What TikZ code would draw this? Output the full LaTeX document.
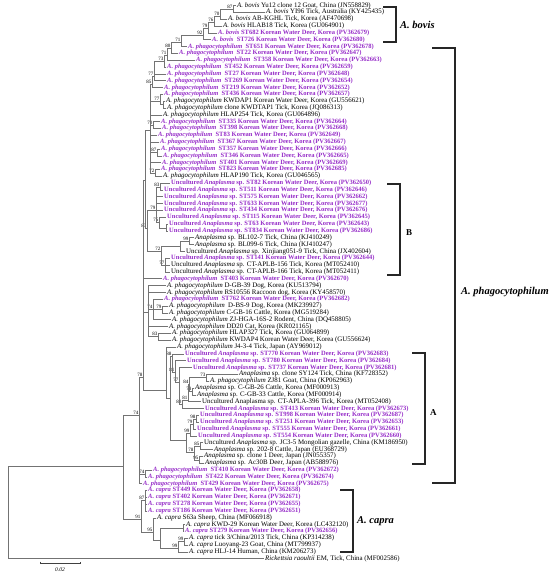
\documentclass[tikz,border=0pt]{standalone}
\usepackage{fontspec}
\setmainfont{Liberation Serif}
\usepackage{tikz}
\usetikzlibrary{calc}

\definecolor{kwdpurple}{RGB}{150,45,200}
\newcommand{\leaffont}{\fontsize{6.9}{7}\selectfont}
\newcommand{\kwdfont}{\fontsize{6.5}{7}\selectfont\bfseries}
\newcommand{\bsfont}{\fontsize{5}{5}\selectfont}
\newcommand{\Aph}{\textit{A. phagocytophilum}}
\newcommand{\Abo}{\textit{A. bovis}}
\newcommand{\Aca}{\textit{A. capra}}
\newcommand{\Ana}{\textit{Anaplasma}}
\newcommand{\KWD}{Korean Water Deer, Korea}

\begin{document}
\begin{tikzpicture}[
  x=1pt, y=-1pt,
  lf/.style={anchor=west,inner sep=1pt,font=\leaffont},
  kw/.style={lf,text=kwdpurple,font=\kwdfont},
  br/.style={draw=black!55,line width=0.45pt},
  bs/.style={font=\bsfont,inner sep=0.5pt},
  bkt/.style={draw=black!85,line width=1.2pt},
  clade/.style={anchor=west,inner sep=0pt,font=\fontsize{10.5}{12}\selectfont\bfseries},
]
  \useasboundingbox (0,0) rectangle (550,572);

  % leaves: A. bovis group
  \node[lf] (yu12)   at (236,5.5)  {\Abo{} Yu12 clone 12 Goat, China (JN558829)};
  \node[lf] (yi96)   at (265,12.3) {\Abo{} YI96 Tick, Australia (KY425435)};
  \node[lf] (abkghl) at (227,19.2) {\Abo{} AB-KGHL Tick, Korea (AF470698)};
  \node[lf] (hlab18) at (222,26.0) {\Abo{} HLAB18 Tick, Korea (GU064901)};
  \node[kw] (bov682) at (217,32.8) {\Abo{} ST682 \KWD{} (PV362679)};
  \node[kw] (bov726) at (211,39.7) {\Abo\ \ ST726 \KWD{} (PV362680)};

  % leaves: A. phagocytophilum, upper part
  \node[kw] (ph651)   at (187,46.5)  {\Aph\ \ ST651 \KWD{} (PV362678)};
  \node[kw] (ph22)    at (178,53.3)  {\Aph\ \ ST22 \KWD{} (PV362647)};
  \node[kw] (ph358)   at (195,60.1)  {\Aph\ \ ST358 \KWD{} (PV362663)};
  \node[kw] (ph452)   at (166,67.0)  {\Aph\ \ ST452 \KWD{} (PV362659)};
  \node[kw] (ph27)    at (166,73.8)  {\Aph\ \ ST27 \KWD{} (PV362648)};
  \node[kw] (ph269)   at (166,80.6)  {\Aph\ \ ST269 \KWD{} (PV362654)};
  \node[kw] (ph219)   at (163,87.5)  {\Aph\ \ ST219 \KWD{} (PV362652)};
  \node[kw] (ph436)   at (163,94.3)  {\Aph\ \ ST436 \KWD{} (PV362657)};
  \node[lf] (kwdap1)  at (165,101.1) {\Aph{} KWDAP1 \KWD{} (GU556621)};
  \node[lf] (kwdtap1) at (166,108.0) {\Aph{} clone KWDTAP1 Tick, Korea (JQ086313)};
  \node[lf] (hlap254) at (162,114.8) {\Aph{} HLAP254 Tick, Korea (GU064896)};
  \node[kw] (ph335)   at (160,121.6) {\Aph\ \ ST335 \KWD{} (PV362664)};
  \node[kw] (ph398)   at (161,128.4) {\Aph\ \ ST398 \KWD{} (PV362668)};
  \node[kw] (ph83)    at (157,135.3) {\Aph\ \ ST83 \KWD{} (PV362649)};
  \node[kw] (ph367)   at (159,142.1) {\Aph\ \ ST367 \KWD{} (PV362667)};
  \node[kw] (ph357)   at (160,148.9) {\Aph\ \ ST357 \KWD{} (PV362666)};
  \node[kw] (ph346)   at (162,155.8) {\Aph\ \ ST346 \KWD{} (PV362665)};
  \node[kw] (ph401)   at (161,162.6) {\Aph\ \ ST401 \KWD{} (PV362669)};
  \node[kw] (ph823)   at (160,169.4) {\Aph\ \ ST823 \KWD{} (PV362685)};
  \node[lf] (hlap190) at (162,176.3) {\Aph{} HLAP190 Tick, Korea (GU046565)};

  % leaves: clade B
  \node[kw] (ua82)    at (170,183.1) {Uncultured \Ana{} sp. ST82 \KWD{} (PV362650)};
  \node[kw] (ua511)   at (163,189.9) {Uncultured \Ana{} sp. ST511 \KWD{} (PV362646)};
  \node[kw] (ua575)   at (163,196.7) {Uncultured \Ana{} sp. ST575 \KWD{} (PV362662)};
  \node[kw] (ua633)   at (163,203.6) {Uncultured \Ana{} sp. ST633 \KWD{} (PV362677)};
  \node[kw] (ua434)   at (163,210.4) {Uncultured \Ana{} sp. ST434 \KWD{} (PV362676)};
  \node[kw] (ua115)   at (166,217.2) {Uncultured \Ana{} sp. ST115 \KWD{} (PV362645)};
  \node[kw] (ua63)    at (168,224.1) {Uncultured \Ana{} sp. ST63 \KWD{} (PV362643)};
  \node[kw] (ua834)   at (168,230.9) {Uncultured \Ana{} sp. ST834 \KWD{} (PV362686)};
  \node[lf] (bl102)   at (194,237.7) {\Ana{} sp. BL102-7 Tick, China (KJ410249)};
  \node[lf] (bl099)   at (194,244.6) {\Ana{} sp. BL099-6 Tick, China (KJ410247)};
  \node[lf] (xj051)   at (185,251.4) {Uncultured \Ana{} sp. Xinjiang051-9 Tick, China (JX402604)};
  \node[kw] (ua141)   at (170,258.2) {Uncultured \Ana{} sp. ST141 \KWD{} (PV362644)};
  \node[lf] (aplb156) at (170,265.0) {Uncultured \Ana{} sp. CT-APLB-156 Tick, Korea (MT052410)};
  \node[lf] (aplb166) at (170,271.9) {Uncultured \Ana{} sp. CT-APLB-166 Tick, Korea (MT052411)};

  % leaves: A. phagocytophilum, middle part
  \node[kw] (ph403)   at (162,278.7) {\Aph\ \ ST403 \KWD{} (PV362670)};
  \node[lf] (dgb39)   at (166,285.5) {\Aph{} D-GB-39 Dog, Korea (KU513794)};
  \node[lf] (rs10556) at (166,292.4) {\Aph{} RS10556 Raccoon dog, Korea (KY458570)};
  \node[kw] (ph762)   at (163,299.2) {\Aph\ \ ST762 \KWD{} (PV362682)};
  \node[lf] (dbs9)    at (168,306.0) {\Aph\ \ D-BS-9 Dog, Korea (MK239927)};
  \node[lf] (cgb16)   at (168,312.9) {\Aph{} C-GB-16 Cattle, Korea (MG519284)};
  \node[lf] (zjhga)   at (171,319.7) {\Aph{} ZJ-HGA-16S-2 Rodent, China (DQ458805)};
  \node[lf] (dd20)    at (168,326.5) {\Aph{} DD20 Cat, Korea (KR021165)};
  \node[lf] (hlap327) at (171,333.3) {\Aph{} HLAP327 Tick, Korea (GU064899)};
  \node[lf] (kwdap4)  at (171,340.2) {\Aph{} KWDAP4 \KWD{} (GU556624)};
  \node[lf] (j434)    at (176,347.0) {\Aph{} J4-3-4 Tick, Japan (AY969012)};

  % leaves: clade A
  \node[kw] (ua770)   at (184,353.8) {Uncultured \Ana{} sp. ST770 \KWD{} (PV362683)};
  \node[kw] (ua780)   at (186,360.7) {Uncultured \Ana{} sp. ST780 \KWD{} (PV362684)};
  \node[kw] (ua737)   at (192,367.5) {Uncultured \Ana{} sp. ST737 \KWD{} (PV362681)};
  \node[lf] (sy124)   at (238,374.3) {\Ana{} sp. clone SY124 Tick, China (KF728352)};
  \node[lf] (zj81)    at (209,381.2) {\Aph{} ZJ81 Goat, China (KP062963)};
  \node[lf] (cgb26)   at (194,388.0) {\Ana{} sp. C-GB-26 Cattle, Korea (MF000913)};
  \node[lf] (cgb33)   at (196,394.8) {\Ana{} sp. C-GB-33 Cattle, Korea (MF000914)};
  \node[lf] (apla396) at (201,401.6) {Uncultured Anaplasma sp. CT-APLA-396 Tick, Korea (MT052408)};
  \node[kw] (ua413)   at (204,408.5) {Uncultured \Ana{} sp. ST413 \KWD{} (PV362673)};
  \node[kw] (ua998)   at (199,415.3) {Uncultured \Ana{} sp. ST998 \KWD{} (PV362687)};
  \node[kw] (ua251)   at (199,422.1) {Uncultured \Ana{} sp. ST251 \KWD{} (PV362653)};
  \node[kw] (ua555)   at (196,429.0) {Uncultured \Ana{} sp. ST555 \KWD{} (PV362661)};
  \node[kw] (ua554)   at (197,435.8) {Uncultured \Ana{} sp. ST554 \KWD{} (PV362660)};
  \node[lf] (jc35)    at (203,442.6) {Uncultured \Ana{} sp. JC3-5 Mongolian gazelle, China (KM186950)};
  \node[lf] (ec2028)  at (213,449.5) {\Ana{} sp. 202-8 Cattle, Japan (EU368729)};
  \node[lf] (clone1)  at (203,456.3) {\Ana{} sp. clone 1 Deer, Japan (JN055357)};
  \node[lf] (ac30b)   at (204,463.1) {\Ana{} sp. Ac30B Deer, Japan (AB588976)};

  % leaves: A. phagocytophilum, lower part
  \node[kw] (ph410)   at (152,469.9) {\Aph\ \ ST410 \KWD{} (PV362672)};
  \node[kw] (ph422)   at (147,476.8) {\Aph\ \ ST422 \KWD{} (PV362674)};
  \node[kw] (ph429)   at (142,483.6) {\Aph\ \ ST429 \KWD{} (PV362675)};

  % leaves: A. capra group and outgroup
  \node[kw] (cap449)  at (147,490.4) {\Aca{} ST449 \KWD{} (PV362658)};
  \node[kw] (cap402)  at (147,497.3) {\Aca{} ST402 \KWD{} (PV362671)};
  \node[kw] (cap278)  at (147,504.1) {\Aca{} ST278 \KWD{} (PV362655)};
  \node[kw] (cap186)  at (147,510.9) {\Aca{} ST186 \KWD{} (PV362651)};
  \node[lf] (s63a)    at (156,517.8) {\Aca{} S63a Sheep, China (MF066918)};
  \node[lf] (kwd29)   at (185,524.6) {\Aca{} KWD-29 \KWD{} (LC432120)};
  \node[kw] (cap279)  at (184,531.4) {\Aca{} ST279 \KWD{} (PV362656)};
  \node[lf] (tick3)   at (188,538.2) {\Aca{} tick 3/China/2013 Tick, China (KP314238)};
  \node[lf] (luoyang) at (188,545.1) {\Aca{} Luoyang-23 Goat, China (MT799937)};
  \node[lf] (hlj14)   at (188,551.9) {\Aca{} HLJ-14 Human, China (KM206273)};
  \node[lf] (raoultii) at (264,558.7) {\textit{Rickettsia raoultii} EM, Tick, China (MF002586)};

  % inner nodes with bootstrap values
  \coordinate[label={[bs]above left:87}] (bov1) at (233,9);
  \coordinate[label={[bs]above left:70}] (bov2) at (220,16);
  \coordinate[label={[bs]above left:76}] (bov3) at (214,22);
  \coordinate[label={[bs]above left:79}] (bov4) at (208,28);
  \coordinate[label={[bs]above left:92}] (bov5) at (203,35);
  \coordinate[label={[bs]above left:71}] (phg71) at (181,42);
  \coordinate[label={[bs]above left:80}] (phg80) at (171,48);
  \coordinate[label={[bs]above left:71}] (phg71b) at (167,55);
  \coordinate[label={[bs]above left:73}] (phg73) at (164,61);
  \coordinate[label={[bs]above left:77}] (phg77) at (154,76);
  \coordinate[label={[bs]above left:85}] (phg85) at (152,84);
  \coordinate (phgkw) at (163,104);
  \coordinate[label={[bs]above left:77}] (phg77b) at (160,101);
  \coordinate[label={[bs]above left:70}] (phg70) at (153,125);
  \coordinate[label={[bs]above left:87}] (phg87) at (157,152);
  \coordinate[label={[bs]above left:72}] (phg72) at (155,173);
  \coordinate (phgtop) at (150,130);

  \coordinate[label={[bs]above left:83}] (cb83a) at (160,187);
  \coordinate (cb63) at (166,228);
  \coordinate[label={[bs]above left:75}] (cb75) at (159,222);
  \coordinate[label={[bs]above left:79}] (cb79) at (156,210);
  \coordinate[label={[bs]above left:99}] (cbbl) at (189,241);
  \coordinate (cbxj) at (180,246);
  \coordinate[label={[bs]above left:77}] (cb77) at (165,265);
  \coordinate[label={[bs]above left:72}] (cb72) at (161,251);
  \coordinate[label={[bs]above left:83}] (cb83) at (147,228);
  \coordinate (phgup) at (145,180);

  \coordinate[label={[bs]above left:79}] (pm79) at (162,309);
  \coordinate[label={[bs]above left:74}] (pm74) at (153,309);
  \coordinate[label={[bs]above left:83}] (pm83) at (158,336);
  \coordinate (pmid) at (148,312);

  \coordinate[label={[bs]above left:73}] (ca73) at (206,377);
  \coordinate[label={[bs]above left:78}] (ca78) at (192,391);
  \coordinate[label={[bs]above left:84}] (ca84) at (189,384);
  \coordinate[label={[bs]above left:81}] (ca81b) at (188,400);
  \coordinate[label={[bs]above left:80}] (ca80) at (182,404);
  \coordinate[label={[bs]above left:77}] (ca77) at (179,382);
  \coordinate[label={[bs]above left:81}] (ca81) at (175,372);
  \coordinate[label={[bs]above left:88}] (ca88) at (172,356);
  \coordinate[label={[bs]above left:98}] (ca98) at (196,419);
  \coordinate[label={[bs]above left:79}] (ca79) at (193,424);
  \coordinate[label={[bs]above left:99}] (ca99) at (190,433);
  \coordinate[label={[bs]above left:85}] (ca85) at (200,446);
  \coordinate[label={[bs]above left:95}] (ca95) at (199,460);
  \coordinate[label={[bs]above left:78}] (ca78b) at (194,452);
  \coordinate (calow) at (186,440);
  \coordinate (caroot) at (170,398);
  \coordinate (phgj) at (166,390);

  \coordinate[label={[bs]above left:78}] (phg78) at (143,377);
  \coordinate[label={[bs]above left:74}] (phg74c) at (145,474);
  \coordinate[label={[bs]above left:74}] (phg74) at (139,415);

  \coordinate[label={[bs]above left:87}] (cp87) at (145,500);
  \coordinate[label={[bs]above left:99}] (cp99a) at (184,541);
  \coordinate[label={[bs]above left:99}] (cp99b) at (178,548);
  \coordinate (cpk) at (183,528);
  \coordinate (cpa) at (160,540);
  \coordinate[label={[bs]above left:95}] (cp95) at (153,532);
  \coordinate[label={[bs]above left:91}] (cp91) at (141,519);

  \coordinate (ingroup) at (123,466);
  \coordinate (root) at (8,512);

  % branches: A. bovis
  \draw[br] (bov1) |- (yu12) (bov1) |- (yi96);
  \draw[br] (bov2) |- (bov1) (bov2) |- (abkghl);
  \draw[br] (bov3) |- (bov2) (bov3) |- (hlab18);
  \draw[br] (bov4) |- (bov3) (bov4) |- (bov682);
  \draw[br] (bov5) |- (bov4) (bov5) |- (bov726);

  % branches: A. phagocytophilum, upper part
  \draw[br] (phg71) |- (bov5) (phg71) |- (ph651);
  \draw[br] (phg80) |- (phg71) (phg80) |- (ph22);
  \draw[br] (phg71b) |- (phg80) (phg71b) |- (ph358);
  \draw[br] (phg73) |- (phg71b) (phg73) |- (ph452);
  \draw[br] (phg77) |- (phg73) (phg77) |- (ph27) (phg77) |- (ph269);
  \draw[br] (phg85) |- (phg77) (phg85) |- (ph219);
  \draw[br] (phgkw) |- (kwdap1) (phgkw) |- (kwdtap1);
  \draw[br] (phg77b) |- (ph436) (phg77b) |- (phgkw);
  \draw[br] (phg70) |- (ph335) (phg70) |- (ph398);
  \draw[br] (phg87) |- (ph357) (phg87) |- (ph346);
  \draw[br] (phg72) |- (ph823) (phg72) |- (hlap190);
  \foreach \c in {phg85,phg77b,hlap254,phg70,ph83,ph367,phg87,ph401,phg72}
    \draw[br] (phgtop) |- (\c);

  % branches: clade B
  \draw[br] (cb83a) |- (ua82) (cb83a) |- (ua511);
  \draw[br] (cb63) |- (ua63) (cb63) |- (ua834);
  \draw[br] (cb75) |- (ua115) (cb75) |- (cb63);
  \foreach \c in {cb83a,ua575,ua633,ua434,cb75}
    \draw[br] (cb79) |- (\c);
  \draw[br] (cbbl) |- (bl102) (cbbl) |- (bl099);
  \draw[br] (cbxj) |- (cbbl) (cbxj) |- (xj051);
  \foreach \c in {ua141,aplb156,aplb166}
    \draw[br] (cb77) |- (\c);
  \draw[br] (cb72) |- (cbxj) (cb72) |- (cb77);
  \draw[br] (cb83) |- (cb79) (cb83) |- (cb72);
  \draw[br] (phgup) |- (phgtop) (phgup) |- (cb83);

  % branches: A. phagocytophilum, middle part
  \draw[br] (pm79) |- (dbs9) (pm79) |- (cgb16);
  \draw[br] (pm74) |- (ph762) (pm74) |- (pm79) (pm74) |- (zjhga);
  \draw[br] (pm83) |- (hlap327) (pm83) |- (kwdap4);
  \foreach \c in {dgb39,rs10556,pm74,dd20,pm83}
    \draw[br] (pmid) |- (\c);

  % branches: clade A
  \draw[br] (ca73) |- (sy124) (ca73) |- (zj81);
  \draw[br] (ca78) |- (cgb26) (ca78) |- (cgb33);
  \draw[br] (ca84) |- (ca73) (ca84) |- (ca78);
  \draw[br] (ca81b) |- (ca84) (ca81b) |- (apla396);
  \draw[br] (ca80) |- (ca81b) (ca80) |- (ua413);
  \draw[br] (ca77) |- (ua737) (ca77) |- (ca80);
  \draw[br] (ca81) |- (ua780) (ca81) |- (ca77);
  \draw[br] (ca88) |- (ua770) (ca88) |- (ca81);
  \draw[br] (ca98) |- (ua998) (ca98) |- (ua251);
  \draw[br] (ca79) |- (ca98) (ca79) |- (ua555);
  \draw[br] (ca99) |- (ca79) (ca99) |- (ua554);
  \draw[br] (ca85) |- (jc35) (ca85) |- (ec2028);
  \draw[br] (ca95) |- (clone1) (ca95) |- (ac30b);
  \draw[br] (ca78b) |- (ca85) (ca78b) |- (ca95);
  \draw[br] (calow) |- (ca99) (calow) |- (ca78b);
  \draw[br] (caroot) |- (ca88) (caroot) |- (calow);
  \draw[br] (phgj) |- (j434) (phgj) |- (caroot);

  % branches: backbone
  \foreach \c in {phgup,ph403,pmid,phgj}
    \draw[br] (phg78) |- (\c);
  \draw[br] (phg74c) |- (ph410) (phg74c) |- (ph422);
  \draw[br] (phg74) |- (phg78) (phg74) |- (phg74c) (phg74) |- (ph429);

  % branches: A. capra
  \foreach \c in {cap449,cap402,cap278,cap186}
    \draw[br] (cp87) |- (\c);
  \draw[br] (cp99a) |- (tick3) (cp99a) |- (luoyang);
  \draw[br] (cp99b) |- (cp99a) (cp99b) |- (hlj14);
  \draw[br] (cpk) |- (kwd29) (cpk) |- (cap279);
  \draw[br] (cpa) |- (cpk) (cpa) |- (cp99b);
  \draw[br] (cp95) |- (s63a) (cp95) |- (cpa);
  \draw[br] (cp91) |- (cp87) (cp91) |- (cp95);

  % root
  \draw[br] (ingroup) |- (phg74) (ingroup) |- (cp91);
  \draw[br] (root) |- (ingroup) (root) |- (raoultii);

  % scale bar
  \coordinate (sbl) at (40,563);
  \coordinate (sbr) at (80,563);
  \draw[br,black!75] (sbl) ++(0,-1.5) -- (sbl) -- (sbr) -- ++(0,-1.5);
  \node[bs,font=\fontsize{5.5}{6}\selectfont\itshape] (sbtext) at (60,569.5) {0.02};

  % clade brackets
  \coordinate (bovt) at (383,7);
  \coordinate (bovb) at (383,42);
  \draw[bkt] (bovt) -- ++(13,0) |- (bovb);
  \node[clade] (bovis) at (400,25) {\textit{A. bovis}};

  \coordinate (cbt) at (387,184);
  \coordinate (cbb) at (387,275);
  \draw[bkt] (cbt) -- ++(13,0) |- (cbb);
  \node[clade,font=\fontsize{9}{10}\selectfont\bfseries] (cladeB) at (406,233) {B};

  \coordinate (phgt) at (432,48);
  \coordinate (phgb) at (432,483);
  \draw[bkt] (phgt) -- ++(23,0) |- (phgb);
  \node[clade] (phago) at (461,292) {\textit{A. phagocytophilum}};

  \coordinate (cat) at (412,353);
  \coordinate (cab) at (412,464);
  \draw[bkt] (cat) -- ++(13,0) |- (cab);
  \node[clade,font=\fontsize{9}{10}\selectfont\bfseries] (cladeA) at (430,413) {A};

  \coordinate (capt) at (340,490);
  \coordinate (capb) at (340,552);
  \draw[bkt] (capt) -- ++(13,0) |- (capb);
  \node[clade] (capra) at (357,521) {\textit{A. capra}};
\end{tikzpicture}
\end{document}
